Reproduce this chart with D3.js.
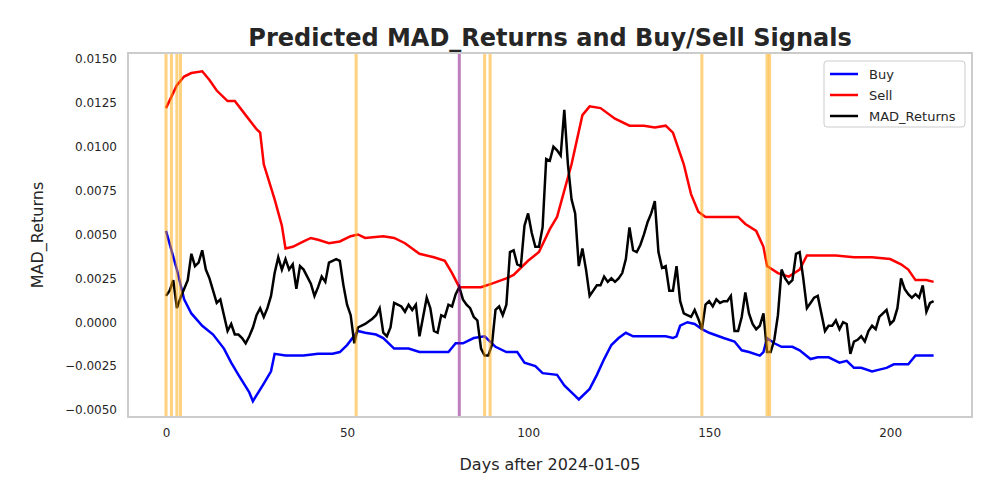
<!DOCTYPE html>
<html><head><meta charset="utf-8">
<script src="https://cdn.jsdelivr.net/npm/d3@7"></script>
<style>body{margin:0;background:#fff}text{font-family:"DejaVu Sans",sans-serif}</style>
</head><body><svg width="1000" height="500"></svg>
<script>
// day index / value pairs
var sellDays = [0,3,5,7,10,12,14,17,19,22,25,26,27,30,32,33,35,38,40,42,45,48,51,53,55,60,63,66,70,74,77,79,81,84,87,90,94,96,100,103,106,108,112,115,117,120,124,128,132,135,138,140,143,145,147,149,152,156,158,160,163,165,166,169,172,175,177,180,185,190,195,200,203,205,207,210,212];
var sellVals = [0.0122,0.0135,0.0140,0.0142,0.0143,0.0138,0.0132,0.0126,0.0126,0.0118,0.0110,0.0108,0.0090,0.0070,0.0055,0.0042,0.0043,0.0046,0.0048,0.0047,0.0045,0.0046,0.0049,0.0050,0.0048,0.0049,0.0048,0.0045,0.0039,0.0037,0.0035,0.0028,0.0020,0.0020,0.0020,0.0022,0.0025,0.0027,0.0035,0.0040,0.0053,0.0060,0.0090,0.0118,0.0123,0.0122,0.0116,0.0112,0.0112,0.0111,0.0112,0.0108,0.0090,0.0073,0.0063,0.0060,0.0060,0.0060,0.0060,0.0056,0.0052,0.0043,0.0032,0.0028,0.0026,0.0030,0.0038,0.0038,0.0038,0.0037,0.0037,0.0036,0.0033,0.0030,0.0024,0.0024,0.0023];
var buyDays = [0,3,5,7,10,13,16,18,20,23,24,27,29,30,33,38,42,46,48,50,53,55,58,60,63,67,70,75,78,80,82,85,88,91,94,97,99,102,104,108,110,113,114,117,119,121,123,125,127,129,132,135,138,140,141,142,144,146,148,150,154,157,159,161,164,165,166,168,170,173,175,178,180,183,186,188,190,192,195,197,199,201,205,207,210,212];
var buyVals = [0.0052,0.0030,0.0013,0.0005,-0.0002,-0.0007,-0.0015,-0.0023,-0.0030,-0.0040,-0.0045,-0.0035,-0.0028,-0.0018,-0.0019,-0.0019,-0.0018,-0.0018,-0.0017,-0.0013,-0.0005,-0.0006,-0.0007,-0.0009,-0.0015,-0.0015,-0.0017,-0.0017,-0.0017,-0.0012,-0.0012,-0.0009,-0.0008,-0.0014,-0.0017,-0.0017,-0.0023,-0.0025,-0.0029,-0.0030,-0.0036,-0.0042,-0.0044,-0.0038,-0.0030,-0.0021,-0.0013,-0.0009,-0.0006,-0.0008,-0.0008,-0.0008,-0.0008,-0.0009,-0.0008,-0.0002,0.0000,-0.0001,-0.0004,-0.0006,-0.0009,-0.0011,-0.0016,-0.0017,-0.0019,-0.0017,-0.0009,-0.0012,-0.0014,-0.0014,-0.0016,-0.0021,-0.0020,-0.0020,-0.0023,-0.0022,-0.0026,-0.0026,-0.0028,-0.0027,-0.0026,-0.0024,-0.0024,-0.0019,-0.0019,-0.0019];
var madDays = [0,1,2,3,4,6,7,8,9,10,11,12,13,14,15,16,17,18,19,20,21,22,23,24,25,26,27,28,29,30,31,32,33,34,35,36,37,38,39,40,41,42,43,44,45,46,47,48,49,50,51,52,53,55,57,58,59,60,61,62,63,64,65,66,67,68,69,70,71,72,73,74,75,76,77,78,79,80,81,82,83,84,85,86,87,88,89,90,91,92,93,94,95,96,97,98,99,100,101,102,103,104,105,106,107,108,109,110,111,112,113,114,115,116,117,118,119,120,121,122,123,124,125,126,127,128,129,130,131,132,133,134,135,136,137,138,139,140,141,142,143,144,145,146,147,148,149,150,151,152,153,154,155,156,157,158,159,160,161,162,163,164,165,166,167,168,169,170,171,172,173,174,175,176,177,178,179,180,181,182,183,184,185,186,187,188,189,190,191,192,193,194,195,196,197,198,199,200,201,202,203,204,205,206,207,208,209,210,211,212];
var madVals = [0.0015,0.0018,0.0024,0.0008,0.0014,0.0024,0.0039,0.0032,0.0034,0.0041,0.0030,0.0025,0.0018,0.0011,0.0013,0.0004,-0.0005,-0.0001,-0.0007,-0.0007,-0.0009,-0.0012,-0.0008,-0.0003,0.0004,0.0008,0.0003,0.0008,0.0015,0.0028,0.0037,0.0030,0.0036,0.0030,0.0033,0.0019,0.0032,0.0030,0.0026,0.0022,0.0015,0.0020,0.0026,0.0023,0.0034,0.0035,0.0036,0.0035,0.0021,0.0010,0.0004,-0.0012,-0.0003,-0.0001,0.0002,0.0004,0.0008,-0.0006,-0.0008,-0.0003,0.0011,0.0010,0.0009,0.0006,0.0010,0.0007,0.0010,-0.0008,0.0003,0.0014,0.0008,-0.0005,-0.0006,0.0004,0.0003,0.0010,0.0009,0.0016,0.0020,0.0013,0.0010,0.0008,0.0003,0.0001,-0.0015,-0.0019,-0.0019,-0.0013,0.0007,0.0009,0.0004,0.0010,0.0040,0.0041,0.0033,0.0032,0.0055,0.0062,0.0051,0.0043,0.0043,0.0054,0.0093,0.0092,0.0100,0.0098,0.0095,0.0121,0.0090,0.0070,0.0062,0.0032,0.0042,0.0030,0.0015,0.0018,0.0021,0.0021,0.0026,0.0023,0.0025,0.0023,0.0025,0.0028,0.0036,0.0054,0.0041,0.0040,0.0044,0.0050,0.0057,0.0062,0.0069,0.0040,0.0031,0.0032,0.0018,0.0018,0.0032,0.0012,0.0005,0.0004,0.0003,0.0007,0.0002,-0.0004,0.0010,0.0012,0.0009,0.0013,0.0011,0.0012,0.0012,0.0015,-0.0005,-0.0005,0.0003,0.0017,0.0005,-0.0001,-0.0004,-0.0002,0.0005,-0.0017,-0.0017,-0.0010,0.0004,0.0030,0.0025,0.0022,0.0024,0.0039,0.0040,0.0025,0.0008,0.0011,0.0014,0.0015,0.0005,-0.0005,-0.0002,-0.0002,0.0001,-0.0004,0.0000,-0.0001,-0.0018,-0.0011,-0.0010,-0.0008,-0.0011,-0.0005,-0.0002,-0.0004,0.0003,0.0005,0.0007,-0.0001,0.0001,0.0008,0.0025,0.0019,0.0016,0.0014,0.0016,0.0014,0.0021,0.0006,0.0011,0.0012];
var sellSignals = [0,1.5,3,4,52.5,88,89.5,148,166,166.7];
var buySignals = [81];
var xTicks = [0,50,100,150,200];
var yTicks = [-0.005,-0.0025,0,0.0025,0.005,0.0075,0.01,0.0125,0.015];

var svg = d3.select("svg");
var m = {l:128, r:972, t:53, b:417};
var x = d3.scaleLinear().domain([-10.5,222.6]).range([m.l,m.r]);
var y = d3.scaleLinear().domain([-0.0054,0.01534]).range([m.b,m.t]);

function series(days, vals){ return days.map(function(d,i){ return [d, vals[i]]; }); }
var line = d3.line().x(function(d){return x(d[0]);}).y(function(d){return y(d[1]);});

svg.append("path").datum(series(buyDays,buyVals)).attr("d",line).attr("fill","none").attr("stroke","blue").attr("stroke-width",2.5);
svg.append("path").datum(series(sellDays,sellVals)).attr("d",line).attr("fill","none").attr("stroke","red").attr("stroke-width",2.5);
svg.append("path").datum(series(madDays,madVals)).attr("d",line).attr("fill","none").attr("stroke","black").attr("stroke-width",2.5);

svg.selectAll(".sig").data(sellSignals).enter().append("line")
  .attr("x1",function(d){return x(d);}).attr("x2",function(d){return x(d);})
  .attr("y1",m.t).attr("y2",m.b).attr("stroke","orange").attr("stroke-opacity",0.5).attr("stroke-width",3);
svg.selectAll(".bsig").data(buySignals).enter().append("line")
  .attr("x1",function(d){return x(d);}).attr("x2",function(d){return x(d);})
  .attr("y1",m.t).attr("y2",m.b).attr("stroke","purple").attr("stroke-opacity",0.5).attr("stroke-width",3);

svg.append("rect").attr("x",m.l).attr("y",m.t).attr("width",m.r-m.l).attr("height",m.b-m.t)
  .attr("fill","none").attr("stroke","#cccccc").attr("stroke-width",2);

var xa = svg.append("g").attr("transform","translate(0,"+(m.b+8)+")")
  .call(d3.axisBottom(x).tickValues(xTicks).tickSize(0).tickFormat(d3.format("d")));
var ya = svg.append("g").attr("transform","translate("+(m.l-8)+",0)")
  .call(d3.axisLeft(y).tickValues(yTicks).tickSize(0).tickFormat(function(d){return d3.format(".4f")(d).replace("-","\u2212");}));
svg.selectAll(".domain").remove();
svg.selectAll(".tick text").attr("font-size",12).attr("fill","#262626").attr("font-family","DejaVu Sans");

svg.append("text").attr("x",(m.l+m.r)/2).attr("y",46).attr("text-anchor","middle")
  .attr("font-size",24).attr("font-weight","bold").attr("fill","#262626").text("Predicted MAD_Returns and Buy/Sell Signals");
svg.append("text").attr("x",(m.l+m.r)/2).attr("y",470).attr("text-anchor","middle")
  .attr("font-size",16).attr("fill","#262626").text("Days after 2024-01-05");
svg.append("text").attr("transform","translate(43,"+((m.t+m.b)/2)+") rotate(-90)").attr("text-anchor","middle")
  .attr("font-size",16).attr("fill","#262626").text("MAD_Returns");

var leg = svg.append("g").attr("transform","translate(824,61)");
leg.append("rect").attr("width",141).attr("height",66).attr("rx",3).attr("fill","white").attr("fill-opacity",0.8).attr("stroke","#cccccc");
var items = [["Buy","blue"],["Sell","red"],["MAD_Returns","black"]];
items.forEach(function(it,i){
  var yy = 13 + i*21;
  leg.append("line").attr("x1",6).attr("x2",34).attr("y1",yy).attr("y2",yy).attr("stroke",it[1]).attr("stroke-width",2.5);
  leg.append("text").attr("x",45).attr("y",yy+5).attr("font-size",13).attr("fill","#262626").text(it[0]);
});
</script></body></html>
